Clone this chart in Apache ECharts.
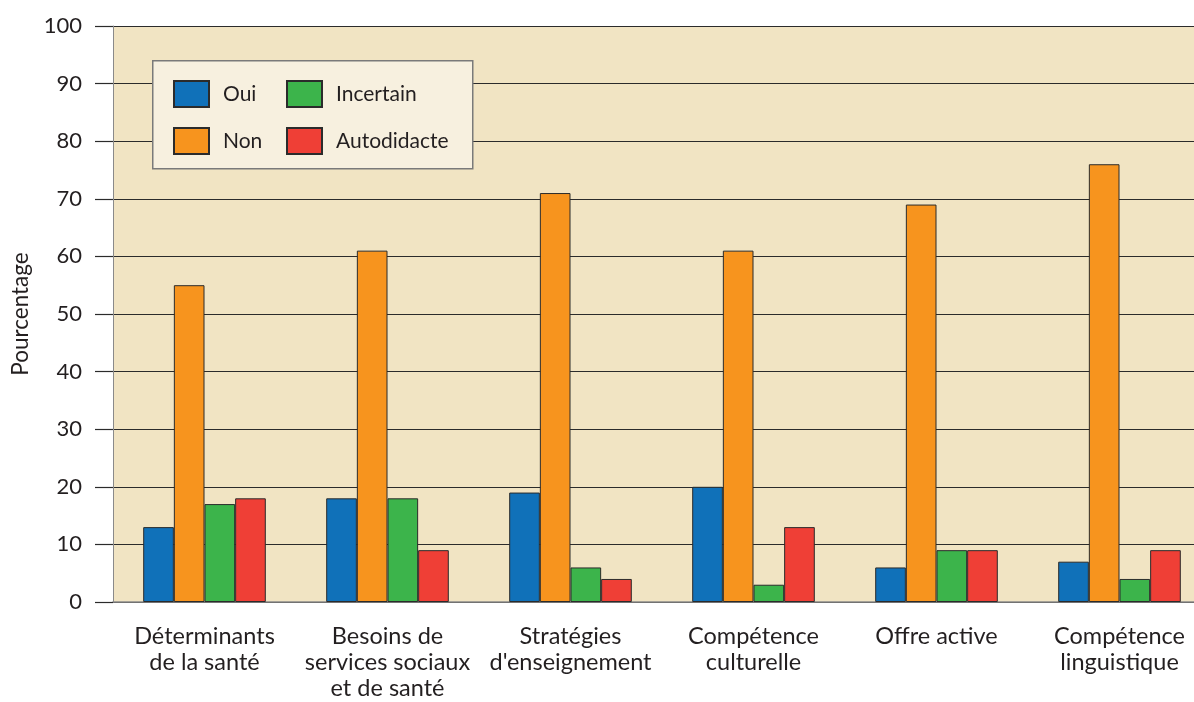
<!DOCTYPE html>
<html>
<head>
<meta charset="utf-8">
<script src="https://cdn.jsdelivr.net/npm/echarts@6/dist/echarts.min.js"></script>
<style>
html,body{margin:0;padding:0;background:#fff;}
#chart{width:1194px;height:702px;}
</style>
</head>
<body>
<div id="chart"></div>
<script>
const categories = ["Déterminants\nde la santé", "Besoins de\nservices sociaux\net de santé", "Stratégies\nd'enseignement", "Compétence\nculturelle", "Offre active", "Compétence\nlinguistique"];
const oui = [13, 18, 19, 20, 6, 7];
const non = [55, 61, 71, 61, 69, 76];
const incertain = [17, 18, 6, 3, 9, 4];
const autodidacte = [18, 9, 4, 13, 9, 9];
const yTicks = [0, 10, 20, 30, 40, 50, 60, 70, 80, 90, 100];

const FONT = 'Lato';
const chart = echarts.init(document.getElementById('chart'));
const barStyle = (c) => ({color: c, borderColor: '#2b2b2b', borderWidth: 1});
const legendText = {fontFamily: FONT, fontSize: 21, color: '#231f20', padding: [0, 0, 0, 9]};

chart.setOption({
  animation: false,
  textStyle: {fontFamily: FONT},
  grid: {left: 113, top: 26, bottom: 100, right: -17, show: true, backgroundColor: '#f1e4c3', borderWidth: 0,
    containLabel: false, outerBoundsMode: 'none'},
  graphic: [{
    type: 'rect', left: 152, top: 60, z: 5,
    shape: {width: 320, height: 108},
    style: {fill: '#f7f0df', stroke: '#7a7a7a', lineWidth: 1.5}
  }],
  legend: [{
    orient: 'vertical', left: 173, top: 80, itemWidth: 35, itemHeight: 26, itemGap: 19,
    data: ['Oui', 'Non'], textStyle: legendText, icon: 'rect', z: 10, padding: 0
  }, {
    orient: 'vertical', left: 286, top: 80, itemWidth: 35, itemHeight: 26, itemGap: 19,
    data: ['Incertain', 'Autodidacte'], textStyle: legendText, icon: 'rect', z: 10, padding: 0
  }],
  xAxis: {
    type: 'category', data: categories,
    axisLine: {lineStyle: {color: '#8a8a8a', width: 1.5}},
    axisTick: {length: 18, lineStyle: {color: '#8a8a8a', width: 1.5}},
    axisLabel: {fontFamily: FONT, fontSize: 23.5, color: '#231f20', lineHeight: 26, margin: 21, interval: 0}
  },
  yAxis: {
    type: 'value', min: 0, max: 100, interval: 10,
    name: 'Pourcentage', nameLocation: 'middle', nameGap: 81, nameRotate: 90,
    nameTextStyle: {fontFamily: FONT, fontSize: 22.5, color: '#231f20'},
    axisLine: {show: true, lineStyle: {color: '#8a8a8a', width: 1}},
    axisTick: {show: true, length: 18, lineStyle: {color: '#2b2b2b', width: 1.2}},
    axisLabel: {fontFamily: FONT, fontSize: 22, color: '#231f20', margin: 31,
      formatter: (v) => yTicks.includes(v) ? String(v) : ''},
    splitLine: {show: true, lineStyle: {color: '#2b2b2b', width: 1.2}}
  },
  series: [
    {name: 'Oui', type: 'bar', data: oui, itemStyle: barStyle('#1071b9'), barGap: 0, barCategoryGap: '33%'},
    {name: 'Non', type: 'bar', data: non, itemStyle: barStyle('#f7941e')},
    {name: 'Incertain', type: 'bar', data: incertain, itemStyle: barStyle('#3cb44b')},
    {name: 'Autodidacte', type: 'bar', data: autodidacte, itemStyle: barStyle('#ef3f36')}
  ]
});
</script>
</body>
</html>
